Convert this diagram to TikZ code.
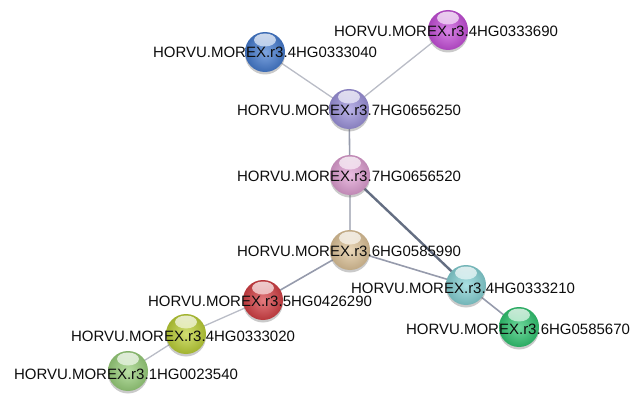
\documentclass[tikz,border=0pt]{standalone}
\usepackage{fontspec}
\setmainfont{Liberation Sans}
\usetikzlibrary{shadows}
\begin{document}
\begin{tikzpicture}[x=1pt,y=-1pt,
  ball/.style={circle,minimum size=40pt,inner sep=0pt,
    inner color=#1!70!white,outer color=#1!85!black,
    drop shadow={shadow xshift=0pt,shadow yshift=-2.5pt,opacity=0.35,fill=black!60},
    path picture={\shade[top color=white,bottom color=#1!60!white,opacity=0.75]
      ([yshift=12pt]path picture bounding box.center) ellipse[x radius=11pt,y radius=6.5pt];}},
  lbl/.style={inner sep=0pt,text=black!95,font=\fontsize{15}{18}\selectfont},
  lite/.style={line width=1.3pt,color={rgb,255:red,185;green,188;blue,198}},
  mid/.style={line width=1.6pt,color={rgb,255:red,150;green,155;blue,172}},
  dark/.style={line width=2.4pt,color={rgb,255:red,100;green,110;blue,130}}
]
\useasboundingbox (0,0) rectangle (630,396);
\definecolor{cBlue}{RGB}{70,125,210}
\definecolor{cPurple}{RGB}{200,80,220}
\definecolor{cLav}{RGB}{158,148,222}
\definecolor{cPink}{RGB}{225,160,212}
\definecolor{cTan}{RGB}{225,198,155}
\definecolor{cCyan}{RGB}{135,212,215}
\definecolor{cRed}{RGB}{215,65,70}
\definecolor{cGreen}{RGB}{50,200,115}
\definecolor{cYG}{RGB}{190,210,55}
\definecolor{cLG}{RGB}{155,210,125}
\coordinate (p1) at (265,52);
\coordinate (p2) at (448,30);
\coordinate (p3) at (349,109);
\coordinate (p4) at (350,175);
\coordinate (p5) at (350,250);
\coordinate (p6) at (466,285);
\coordinate (p7) at (263,300);
\coordinate (p8) at (519,327);
\coordinate (p9) at (186,334);
\coordinate (p10) at (128,371);
% edges
\draw[lite] (p1) -- (p3);
\draw[lite] (p2) -- (p3);
\draw[mid]  (p3) -- (p4);
\draw[lite] (p4) -- (p5);
\draw[dark] (p4) -- (p6);
\draw[mid]  (p5) -- (p6);
\draw[mid]  (p5) -- (p7);
\draw[mid]  (p6) -- (p8);
\draw[lite] (p7) -- (p9);
\draw[lite] (p9) -- (p10);
% balls
\node[ball=cBlue]   (b1) at (p1) {};
\node[ball=cPurple] (b2) at (p2) {};
\node[ball=cLav]    (b3) at (p3) {};
\node[ball=cPink]   (b4) at (p4) {};
\node[ball=cTan]    (b5) at (p5) {};
\node[ball=cCyan]   (b6) at (p6) {};
\node[ball=cRed]    (b7) at (p7) {};
\node[ball=cGreen]  (b8) at (p8) {};
\node[ball=cYG]     (b9) at (p9) {};
\node[ball=cLG]     (b10) at (p10) {};
% labels
\node[lbl] (l1) at (265,52) {HORVU.MOREX.r3.4HG0333040};
\node[lbl] (l2) at (446,31) {HORVU.MOREX.r3.4HG0333690};
\node[lbl] (l3) at (349,110) {HORVU.MOREX.r3.7HG0656250};
\node[lbl] (l4) at (349,176) {HORVU.MOREX.r3.7HG0656520};
\node[lbl] (l5) at (349,251) {HORVU.MOREX.r3.6HG0585990};
\node[lbl] (l6) at (463,288) {HORVU.MOREX.r3.4HG0333210};
\node[lbl] (l7) at (260,301) {HORVU.MOREX.r3.5HG0426290};
\node[lbl] (l8) at (518,329) {HORVU.MOREX.r3.6HG0585670};
\node[lbl] (l9) at (183,336) {HORVU.MOREX.r3.4HG0333020};
\node[lbl] (l10) at (126,374) {HORVU.MOREX.r3.1HG0023540};
\end{tikzpicture}
\end{document}
